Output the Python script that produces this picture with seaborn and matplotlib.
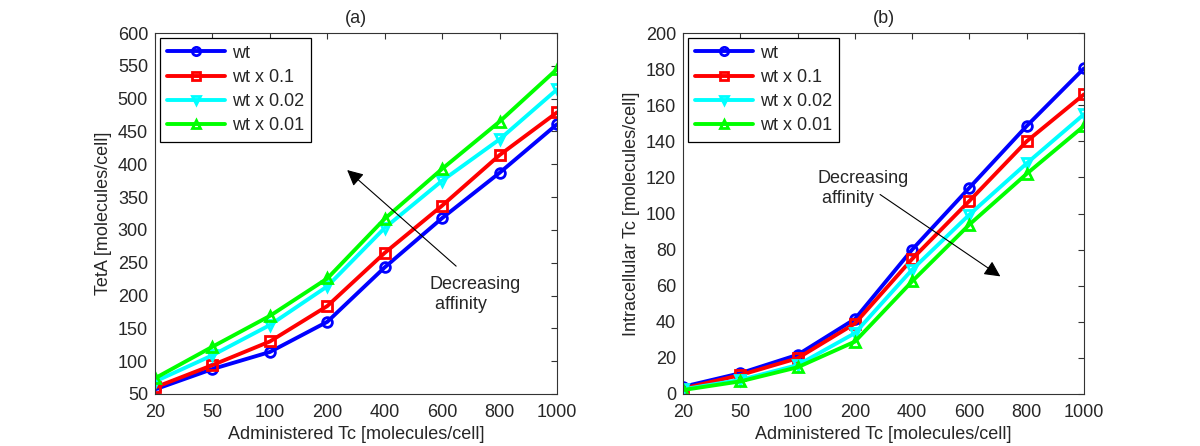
import matplotlib
matplotlib.use("Agg")
import matplotlib.pyplot as plt
import seaborn as sns
import numpy as np

doses = ["20", "50", "100", "200", "400", "600", "800", "1000"]
labels = ["wt", "wt x 0.1", "wt x 0.02", "wt x 0.01"]

teta_wt = [57, 88, 114, 160, 243, 318, 387, 461]
teta_01 = [60, 94, 130, 184, 265, 337, 414, 479]
teta_002 = [69, 109, 155, 214, 303, 375, 438, 514]
teta_001 = [74, 122, 169, 226, 317, 393, 465, 545]

tc_wt = [4, 11.5, 21.7, 41.5, 80, 114.3, 148.5, 180.4]
tc_01 = [3, 10.5, 19.8, 39, 74.8, 107, 140, 166]
tc_002 = [2.6, 7.8, 16, 33.7, 68.9, 99.4, 127.8, 155]
tc_001 = [2.2, 7, 14.8, 29, 62.4, 93.9, 122, 148.5]

colors = ["#0000ff", "#ff0000", "#00ffff", "#00ff00"]
markers = ["o", "s", "v", "^"]

sns.set_style("white")
plt.rcParams["font.family"] = ["Liberation Sans", "DejaVu Sans"]
plt.rcParams["xtick.direction"] = "in"
plt.rcParams["ytick.direction"] = "in"

FS = 13

fig = plt.figure(figsize=(12, 4.46), dpi=100)
ax1 = fig.add_axes([155 / 1200, 52 / 446, 402 / 1200, 361 / 446])
ax2 = fig.add_axes([683 / 1200, 52 / 446, 401 / 1200, 361 / 446])

pos = np.arange(len(doses))


def draw(ax, series, ylim, ystep, ylabel, title):
    for vals, lab, c, m in zip(series, labels, colors, markers):
        sns.lineplot(x=pos, y=vals, ax=ax, color=c, lw=2.8, marker=m,
                     markersize=7, markerfacecolor="none", markeredgecolor=c,
                     markeredgewidth=2, label=lab)
    ax.set_xlim(0, len(doses) - 1)
    ax.set_ylim(*ylim)
    ax.set_xticks(pos)
    ax.set_xticklabels(doses)
    ax.set_yticks(np.arange(ylim[0], ylim[1] + 0.1, ystep))
    ax.tick_params(axis="both", which="both", direction="in", top=True,
                   right=True, length=4, width=0.8, labelsize=FS,
                   color="#333333", pad=5)
    ax.tick_params(axis="x", pad=7)
    for s in ax.spines.values():
        s.set_color("#333333")
        s.set_linewidth(0.8)
    ax.set_xlabel("Administered Tc [molecules/cell]", fontsize=FS, labelpad=4)
    ax.set_ylabel(ylabel, fontsize=FS, labelpad=4)
    ax.set_title(title, fontsize=FS, pad=7)
    leg = ax.legend(loc="upper left", fontsize=FS, frameon=True,
                    fancybox=False, edgecolor="black", framealpha=1,
                    handlelength=3.2, handletextpad=0.4, borderpad=0.4,
                    labelspacing=0.4, borderaxespad=0.25, markerscale=0.85)
    leg.get_frame().set_linewidth(0.9)


draw(ax1, [teta_wt, teta_01, teta_002, teta_001], (50, 600), 50,
     "TetA [molecules/cell]", "(a)")
draw(ax2, [tc_wt, tc_01, tc_002, tc_001], (0, 200), 20,
     "Intracellular Tc [molecules/cell]", "(b)")

ax1.annotate("", xy=(3.31, 394), xytext=(5.28, 242),
             arrowprops=dict(arrowstyle="-|>", color="black", lw=0.8,
                             mutation_scale=24))
ax1.text(4.78, 230, "Decreasing\n affinity", fontsize=FS, ha="left",
         va="top", linespacing=1.25)

ax2.annotate("", xy=(5.58, 64.3), xytext=(3.40, 111.4),
             arrowprops=dict(arrowstyle="-|>", color="black", lw=0.8,
                             mutation_scale=24))
ax2.text(2.34, 124, "Decreasing\n affinity", fontsize=FS, ha="left",
         va="top", linespacing=1.25)

fig.savefig("out.png", dpi=100)
